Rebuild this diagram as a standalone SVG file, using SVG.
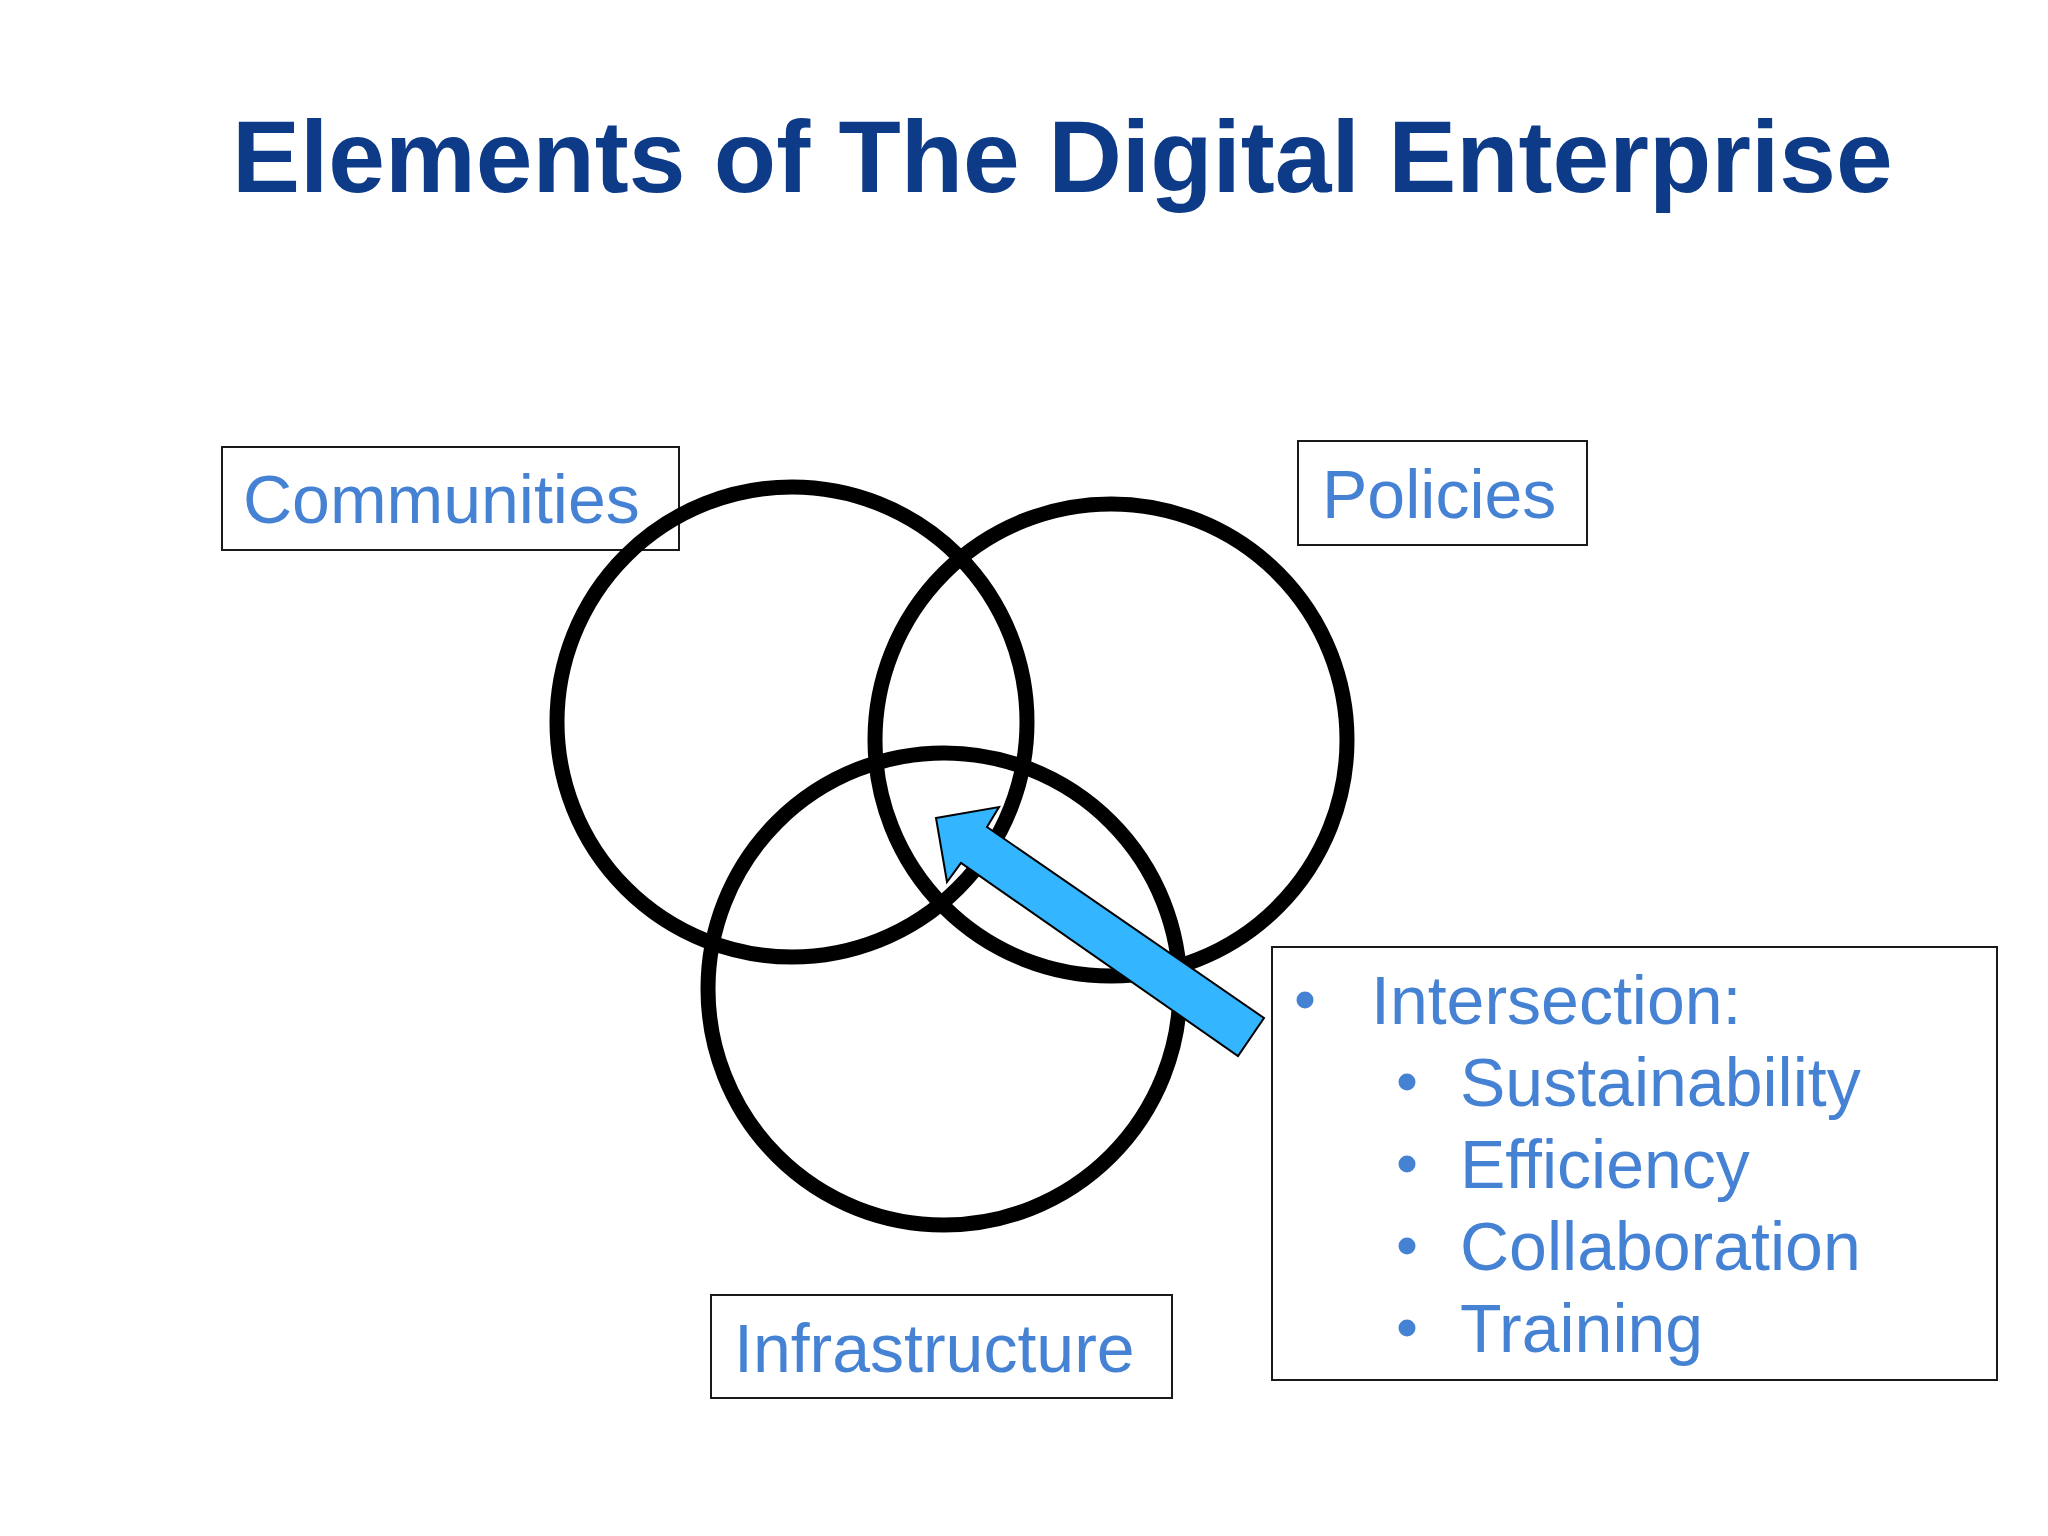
<svg xmlns="http://www.w3.org/2000/svg" width="2048" height="1536" viewBox="0 0 2048 1536">
  <style>
    .title { font-family: "Liberation Sans", Arial, sans-serif; font-weight: bold; font-size: 102px; fill: #0D3B87; }
    .label { font-family: "Liberation Sans", Arial, sans-serif; font-size: 68px; fill: #4682D4; }
    .box { fill: #FFFFFF; stroke: #1A1A1A; stroke-width: 2; }
    .ring { fill: none; stroke: #000000; stroke-width: 15; }
    .bullet { fill: #4682D4; }
    .arrow { fill: #33B5FF; stroke: #000000; stroke-width: 2; stroke-linejoin: miter; }
  </style>
  <rect x="0" y="0" width="2048" height="1536" fill="#FFFFFF"/>
  <text class="title" x="232" y="192">Elements of The Digital Enterprise</text>

  <g id="communities">
    <rect class="box" x="222" y="447" width="457" height="103"/>
    <text class="label" x="243" y="523">Communities</text>
  </g>
  <g id="policies">
    <rect class="box" x="1298" y="441" width="289" height="104"/>
    <text class="label" x="1322" y="518">Policies</text>
  </g>
  <g id="infrastructure">
    <rect class="box" x="711" y="1295" width="461" height="103"/>
    <text class="label" x="734" y="1372">Infrastructure</text>
  </g>

  <g id="circles">
    <circle id="circle-communities" class="ring" cx="792" cy="722" r="235"/>
    <circle id="circle-policies" class="ring" cx="1111" cy="740" r="236"/>
    <circle id="circle-infrastructure" class="ring" cx="944" cy="989" r="236"/>
  </g>

  <g id="connectors">
    <polygon class="arrow" points="936,818 999,807 987,827 1264,1018 1238,1056 961,863 947,882"/>
  </g>

  <g id="intersection">
    <rect class="box" x="1272" y="947" width="725" height="433"/>
    <circle class="bullet" cx="1305" cy="1000" r="8.5"/>
    <text class="label" x="1371" y="1024">Intersection:</text>
    <circle class="bullet" cx="1407" cy="1082" r="8.5"/>
    <text class="label" x="1460" y="1106">Sustainability</text>
    <circle class="bullet" cx="1407" cy="1164" r="8.5"/>
    <text class="label" x="1460" y="1188">Efficiency</text>
    <circle class="bullet" cx="1407" cy="1246" r="8.5"/>
    <text class="label" x="1460" y="1270">Collaboration</text>
    <circle class="bullet" cx="1407" cy="1328" r="8.5"/>
    <text class="label" x="1460" y="1352">Training</text>
  </g>
</svg>
